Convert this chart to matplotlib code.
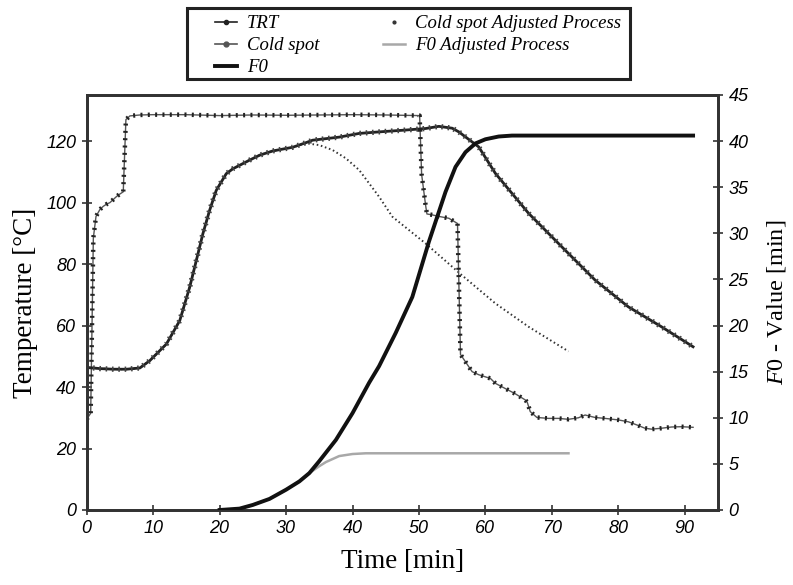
import matplotlib
matplotlib.use("Agg")
import matplotlib.pyplot as plt
from matplotlib.patches import Rectangle
from matplotlib.lines import Line2D

# ---------------- data ----------------
time_trt = [0, 0.6, 1.0, 1.4, 2.0, 2.5, 3.0, 3.5, 4.0, 4.5, 5.0, 5.5, 5.9, 6.5, 8, 10, 15, 20, 25,
            30, 35, 40, 45, 50.1, 50.4, 51.0, 51.2, 52, 53, 54.5, 55.8, 56.25, 57, 58, 59, 60.75,
            61.5, 63, 64.5, 66, 66.3, 66.75, 67.75, 69.5, 71, 72.5, 74, 75, 76.5, 78, 80, 81.5,
            83, 84, 85, 86.5, 88, 89.5, 91.25]
trt = [29.5, 31.5, 88.5, 95.5, 97.8, 98.8, 99.5, 100.0, 101.0, 102.0, 102.8, 103.5, 127.0, 128.2,
       128.5, 128.6, 128.6, 128.3, 128.5, 128.4, 128.5, 128.6, 128.5, 128.3, 109.2, 99.1, 96.3,
       96.0, 95.5, 94.9, 93.2, 50.6, 48.2, 45.0, 44.0, 42.8, 41.2, 39.5, 37.8, 35.8, 35.0, 32.0,
       30.1, 29.8, 29.8, 29.5, 30.0, 30.9, 30.1, 29.8, 29.3, 28.7, 27.5, 26.6, 26.3, 26.6, 27.0,
       27.1, 26.9]

time_cold = [0, 2, 4, 6, 8, 9.5, 12, 14, 15.5, 16.5, 17.5, 18.5, 19.5, 21, 22, 24.5, 26, 28, 31,
             33, 34, 36, 38, 41, 44, 48, 51, 53, 55, 56, 59, 61.5, 66.5, 71.5, 76.5, 81.5, 86.5,
             91.25]
cold = [46.4, 46.0, 45.8, 45.8, 46.2, 48.6, 54.0, 61.6, 72.5, 81.2, 90.0, 97.5, 104.0, 109.4,
        111.0, 113.8, 115.4, 116.8, 118.0, 119.5, 120.3, 120.8, 121.3, 122.5, 123.0, 123.6,
        124.1, 124.8, 124.2, 123.0, 118.1, 109.5, 96.5, 85.6, 74.8, 66.1, 59.6, 53.1]

time_cold_adj = [0, 2, 4, 6, 8, 9.5, 12, 14, 15.5, 16.5, 17.5, 18.5, 19.5, 21, 22, 24.5, 26, 28,
                 31, 33, 35, 37, 39, 41, 44, 46, 51, 56.5, 61.5, 66.5, 72.5]
cold_adj = [46.4, 46.0, 45.8, 45.8, 46.2, 48.6, 54.0, 61.6, 72.5, 81.2, 90.0, 97.5, 104.0, 109.4,
            111.0, 113.8, 115.4, 116.8, 118.0, 119.3, 118.7, 117.1, 114.4, 110.6, 101.9, 95.4,
            86.7, 76.3, 67.2, 59.6, 51.6]

time_f0 = [20, 23, 25, 27.5, 30, 32, 33.5, 35, 37.5, 40, 42.5, 44, 46.5, 49, 51.5, 54, 55.5, 57,
           58.5, 60, 62, 64, 91.25]
f0 = [0.0, 0.15, 0.55, 1.2, 2.2, 3.1, 4.0, 5.3, 7.6, 10.5, 13.8, 15.6, 19.2, 23.1, 29.1, 34.5,
      37.2, 38.8, 39.75, 40.2, 40.5, 40.6, 40.6]

time_f0_adj = [20, 23, 25, 27.5, 30, 32, 33.5, 34.5, 35, 36, 38, 40, 42, 72.5]
f0_adj = [0.0, 0.15, 0.55, 1.2, 2.2, 3.1, 4.0, 4.5, 4.75, 5.2, 5.85, 6.07, 6.15, 6.15]

x_ticks = [0, 10, 20, 30, 40, 50, 60, 70, 80, 90]
y_ticks = [0, 20, 40, 60, 80, 100, 120]
y2_ticks = [0, 5, 10, 15, 20, 25, 30, 35, 40, 45]

# ---------------- style ----------------
plt.rcParams['mathtext.fontset'] = 'custom'
plt.rcParams['mathtext.it'] = 'Liberation Serif:italic'
plt.rcParams['mathtext.rm'] = 'Liberation Serif'

W, H = 793, 585
fig = plt.figure(figsize=(W / 100, H / 100), dpi=100)
ax = fig.add_axes([86.7 / W, 1 - 510 / H, (718 - 86.7) / W, (510 - 95) / H])
ax2 = ax.twinx()

spine_col = '#333333'
for a in (ax, ax2):
    for s in a.spines.values():
        s.set_linewidth(2)
        s.set_color(spine_col)

tickfont = dict(family='Liberation Sans', style='italic', size=13)

# TRT
ax.plot(time_trt, trt, color='#555555', lw=1.0, zorder=3)
ax.plot(time_trt, trt, color='#222222', lw=3.2, linestyle=(0, (0.45, 1.2)), zorder=3)
# Cold spot
ax.plot(time_cold, cold, color='#222222', lw=2.0, zorder=3)
ax.plot(time_cold, cold, color='#444444', lw=3.8, linestyle=(0, (0.3, 0.9)), zorder=3)
# Cold spot adjusted
ax.plot(time_cold_adj, cold_adj, color='#333333', lw=1.4, linestyle=(0, (0.8, 1.4)), zorder=2)
# F0
ax2.plot(time_f0, f0, color='#111111', lw=2.8, zorder=4)
# F0 adjusted
ax2.plot(time_f0_adj, f0_adj, color='#a8a8a8', lw=1.8, zorder=3)

ax.set_xlim(0, 95)
ax.set_ylim(0, 135)
ax2.set_ylim(0, 45)
ax.set_xticks(x_ticks)
ax.set_yticks(y_ticks)
ax2.set_yticks(y2_ticks)

for a in (ax, ax2):
    a.tick_params(direction='inout', length=7, width=1.2, color=spine_col, pad=4)
ax.set_xticklabels([str(v) for v in x_ticks], **tickfont)
ax.set_yticklabels([str(v) for v in y_ticks], **tickfont)
ax2.set_yticklabels([str(v) for v in y2_ticks], **tickfont)

ax.set_xlabel('Time [min]', family='Liberation Serif', size=19.5, labelpad=8)
ax.set_ylabel('Temperature [°C]', family='Liberation Serif', size=19.5, labelpad=6)
ax2.set_ylabel(r'$\mathit{F0}$ - Value [min]', family='Liberation Serif', size=17.5, labelpad=12)

# ---------------- legend ----------------
handles = [
    Line2D([], [], color='#222222', lw=1.2, marker='o', markersize=3),
    Line2D([], [], color='#555555', lw=1.2, marker='o', markersize=3.5),
    Line2D([], [], color='#111111', lw=2.8),
    Line2D([], [], color='#333333', lw=0, marker='o', markersize=2),
    Line2D([], [], color='#a8a8a8', lw=1.8),
]
labels = ['TRT', 'Cold spot', 'F0', 'Cold spot Adjusted Process', 'F0 Adjusted Process']
leg = fig.legend(handles, labels, ncol=2, loc='upper left',
                 bbox_to_anchor=(215 / W, 1 - 15 / H), frameon=False,
                 prop=dict(family='Liberation Serif', style='italic', size=13.5),
                 handlelength=1.17, handletextpad=0.53, columnspacing=3.4,
                 labelspacing=0.27, borderpad=0.0, borderaxespad=0.0)
fig.patches.append(Rectangle((187 / W, 1 - 79 / H), 443 / W, 71 / H,
                             transform=fig.transFigure, fill=False,
                             edgecolor='#222222', linewidth=2.2))

fig.savefig('out.png', dpi=100)
